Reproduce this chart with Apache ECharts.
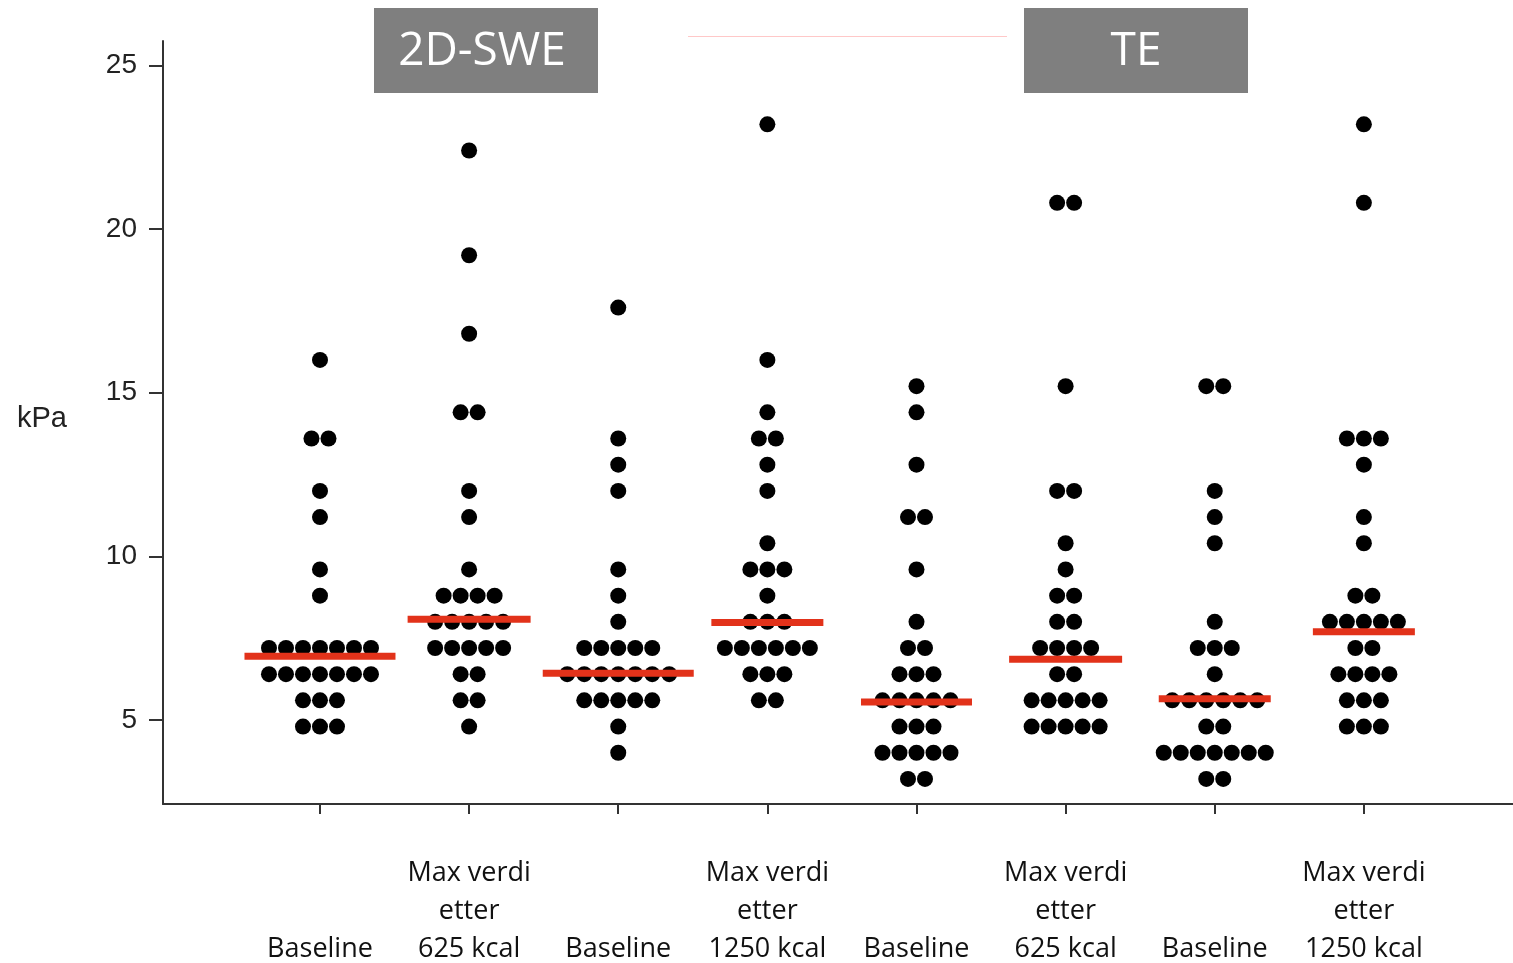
<!DOCTYPE html>
<html>
<head>
<meta charset="utf-8">
<script src="https://cdn.jsdelivr.net/npm/echarts@6/dist/echarts.min.js"></script>
<style>
  html, body { margin: 0; padding: 0; background: #fff; }
  #chart { width: 1513px; height: 963px; }
</style>
</head>
<body>
<div id="chart"></div>
<script>
// x-axis categories
const categories = [
  'Baseline', 'Max verdi\netter\n625 kcal',
  'Baseline', 'Max verdi\netter\n1250 kcal',
  'Baseline', 'Max verdi\netter\n625 kcal',
  'Baseline', 'Max verdi\netter\n1250 kcal'
];
const yTicks = [5, 10, 15, 20, 25];

// kPa bins used by the dot plot (one row of dots per bin)
const bins = [3.2, 4.0, 4.8, 5.6, 6.4, 7.2, 8.0, 8.8, 9.6, 10.4, 11.2, 12.0, 12.8,
              13.6, 14.4, 15.2, 16.0, 16.8, 17.6, 18.4, 19.2, 20.0, 20.8, 21.6, 22.4, 23.2];

// number of patients in each bin, per group
const swe625Base  = [0,0,3,3,7,7,0,1,1,0,1,1,0,2,0,0,1,0,0,0,0,0,0,0,0,0];
const swe625Max   = [0,0,1,2,2,5,5,4,1,0,1,1,0,0,2,0,0,1,0,0,1,0,0,0,1,0];
const swe1250Base = [0,1,1,5,7,5,1,1,1,0,0,1,1,1,0,0,0,0,1,0,0,0,0,0,0,0];
const swe1250Max  = [0,0,0,2,3,6,3,1,3,1,0,1,1,2,1,0,1,0,0,0,0,0,0,0,0,1];
const te625Base   = [2,5,3,5,3,2,1,0,1,0,2,0,1,0,1,1,0,0,0,0,0,0,0,0,0,0];
const te625Max    = [0,0,5,5,2,4,2,2,1,1,0,2,0,0,0,1,0,0,0,0,0,0,2,0,0,0];
const te1250Base  = [2,7,2,6,1,3,1,0,0,1,1,1,0,0,0,2,0,0,0,0,0,0,0,0,0,0];
const te1250Max   = [0,0,3,3,4,2,5,2,0,1,1,0,1,3,0,0,0,0,0,0,0,0,1,0,0,1];

// medians (red bars)
const medians = [6.95, 8.08, 6.43, 7.98, 5.55, 6.86, 5.65, 7.70];

// styling
const medianWidths = [151, 123, 151, 112, 111, 113, 112, 102];
const dotStep = 17;

const groups = [swe625Base, swe625Max, swe1250Base, swe1250Max,
                te625Base, te625Max, te1250Base, te1250Max];

// build beeswarm-like rows: dots side by side around the category centre
let dots = [];
groups.forEach((counts, i) => {
  counts.forEach((n, b) => {
    for (let k = 0; k < n; k++) {
      dots.push({
        value: [i, bins[b]],
        symbolOffset: [(k - (n - 1) / 2) * dotStep, 0]
      });
    }
  });
});

const medianData = medians.map((m, i) => ({
  value: [i, m],
  symbolSize: [medianWidths[i], 7]
}));

const chart = echarts.init(document.getElementById('chart'));
const option = {
  backgroundColor: '#fff',
  animation: false,
  grid: {
    left: 163,
    right: 0,
    top: 41,
    bottom: 159,
    containLabel: false,
    outerBoundsMode: 'none'
  },
  xAxis: {
    type: 'value',
    min: -1.0527,
    max: 8,
    splitLine: { show: false },
    axisLine: { show: true, onZero: false, lineStyle: { color: '#333', width: 2 } },
    axisTick: {
      show: true,
      length: 10,
      customValues: categories.map((c, i) => i),
      lineStyle: { color: '#333', width: 2 }
    },
    axisLabel: {
      show: true,
      customValues: categories.map((c, i) => i),
      margin: 50,
      fontFamily: 'Open Sans',
      fontSize: 27,
      lineHeight: 38,
      color: '#111',
      formatter: (v) => {
        let s = categories[Math.round(v)] || '';
        let lines = s.split('\n');
        while (lines.length < 3) lines.unshift('');
        return lines.join('\n');
      }
    }
  },
  yAxis: {
    type: 'value',
    min: 2.434,
    max: 25.745,
    splitLine: { show: false },
    axisLine: { show: true, onZero: false, lineStyle: { color: '#333', width: 2 } },
    axisTick: {
      show: true,
      length: 14,
      customValues: yTicks,
      lineStyle: { color: '#333', width: 2 }
    },
    axisLabel: {
      customValues: yTicks,
      margin: 26,
      fontFamily: 'Liberation Sans',
      fontSize: 28,
      color: '#222'
    }
  },
  series: [
    {
      type: 'scatter',
      symbol: 'circle',
      symbolSize: 16,
      itemStyle: { color: '#000', opacity: 1 },
      data: dots,
      z: 2
    },
    {
      type: 'scatter',
      symbol: 'rect',
      itemStyle: { color: '#e2321a', opacity: 1 },
      data: medianData,
      z: 3
    }
  ],
  graphic: [
    {
      type: 'text',
      left: 17,
      top: 404,
      style: { text: 'kPa', font: '29px "Liberation Sans"', fill: '#222' }
    },
    {
      type: 'rect',
      shape: { x: 374, y: 8, width: 224, height: 85 },
      style: { fill: '#7f7f7f' }
    },
    {
      type: 'text',
      x: 482, y: 52,
      style: {
        text: '2D-SWE', font: '46px "Open Sans"', fill: '#fff',
        align: 'center', verticalAlign: 'middle'
      }
    },
    {
      type: 'rect',
      shape: { x: 1024, y: 8, width: 224, height: 85 },
      style: { fill: '#7f7f7f' }
    },
    {
      type: 'text',
      x: 1136, y: 52,
      style: {
        text: 'TE', font: '46px "Open Sans"', fill: '#fff',
        align: 'center', verticalAlign: 'middle'
      }
    },
    {
      type: 'line',
      shape: { x1: 688, y1: 36.5, x2: 1007, y2: 36.5 },
      style: { stroke: '#ffc8c8', lineWidth: 1 }
    }
  ]
};
chart.setOption(option);
</script>
</body>
</html>
